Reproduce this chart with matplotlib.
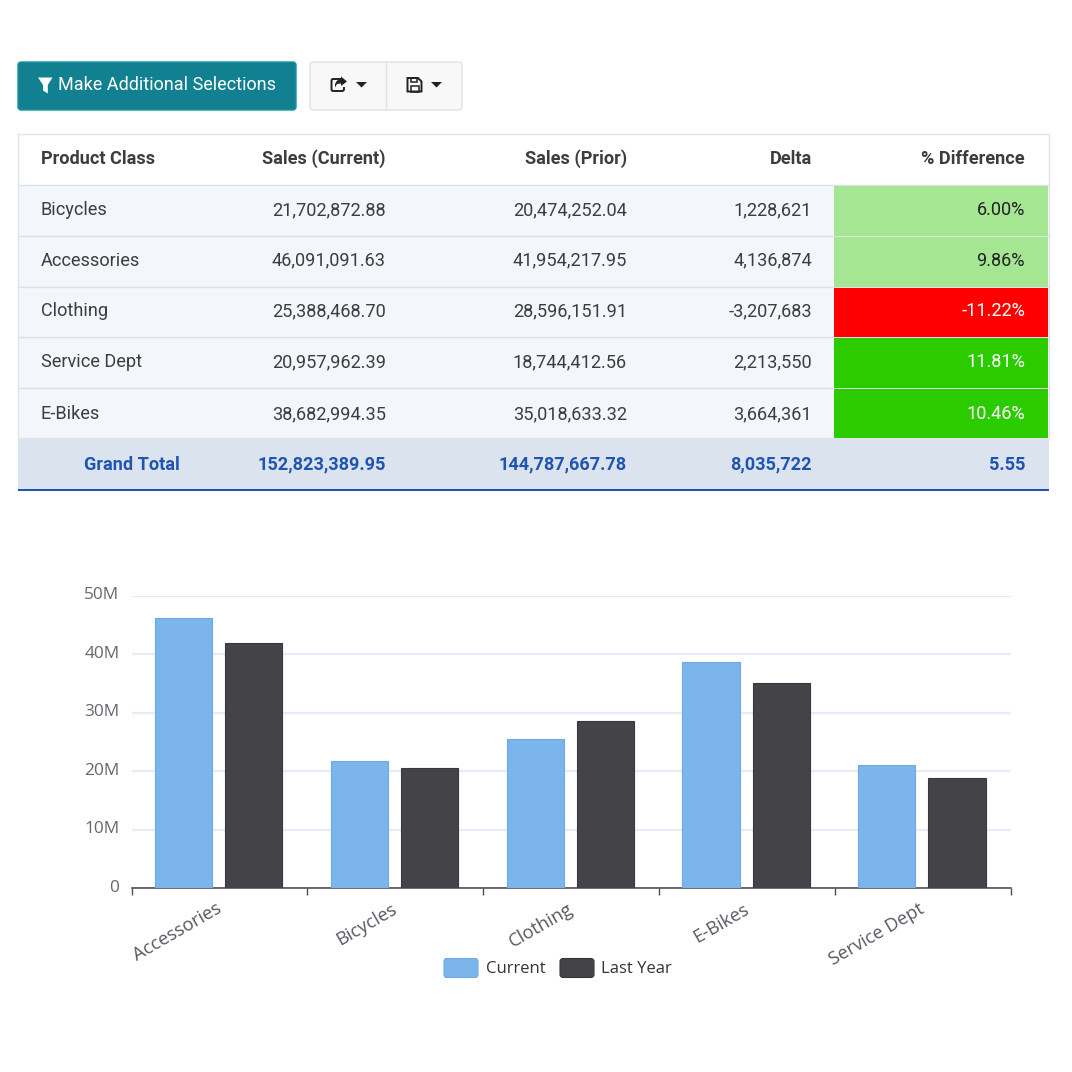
import matplotlib
matplotlib.use('Agg')
import matplotlib.pyplot as plt
from matplotlib.patches import Rectangle, FancyBboxPatch, Polygon, PathPatch
from matplotlib.path import Path
from matplotlib.ticker import FuncFormatter
from matplotlib.transforms import ScaledTranslation

# Table data
headers = ['Product Class', 'Sales (Current)', 'Sales (Prior)', 'Delta', '% Difference']
table_classes = ['Bicycles', 'Accessories', 'Clothing', 'Service Dept', 'E-Bikes']
table_current = ['21,702,872.88', '46,091,091.63', '25,388,468.70', '20,957,962.39', '38,682,994.35']
table_prior = ['20,474,252.04', '41,954,217.95', '28,596,151.91', '18,744,412.56', '35,018,633.32']
table_delta = ['1,228,621', '4,136,874', '-3,207,683', '2,213,550', '3,664,361']
table_pct = ['6.00%', '9.86%', '-11.22%', '11.81%', '10.46%']
totals = ['Grand Total', '152,823,389.95', '144,787,667.78', '8,035,722', '5.55']

# Chart data
categories = ['Accessories', 'Bicycles', 'Clothing', 'E-Bikes', 'Service Dept']
current = [46091091.63, 21702872.88, 25388468.70, 38682994.35, 20957962.39]
last_year = [41954217.95, 20474252.04, 28596151.91, 35018633.32, 18744412.56]
y_ticks = [0, 10e6, 20e6, 30e6, 40e6, 50e6]

pct_bg = ['#a5e693', '#a5e693', '#ff0000', '#2bcb00', '#2bcb00']
pct_fg = ['#222222', '#222222', 'white', 'white', 'white']
row_edges = [185, 236, 287, 337, 388, 438]
row_text_y = [208.7, 259.3, 310, 360.7, 412.7]

plt.rcParams['font.family'] = ['Roboto', 'DejaVu Sans']
TEXT = '#3d3d3f'
BLUE = '#1f55b0'
SIZE = 13.1
# cap height of the table font is about 13 px, so baseline = centre + 6.2
BASE = 6.2

fig = plt.figure(figsize=(10.72, 10.72), dpi=100)

# Overlay in pixel coordinates for the page furniture
ui = fig.add_axes([0, 0, 1, 1])
ui.set_xlim(0, 1072)
ui.set_ylim(1072, 0)
ui.axis('off')


def rect(x0, y0, x1, y1, color, z=1, **kw):
    ui.add_patch(Rectangle((x0, y0), x1 - x0, y1 - y0, facecolor=color, edgecolor='none', zorder=z, **kw))


def rounded(x0, y0, x1, y1, fc, ec, r=3, lw=1.0, z=2):
    ui.add_patch(FancyBboxPatch((x0 + r, y0 + r), x1 - x0 - 2 * r, y1 - y0 - 2 * r,
                                boxstyle=f'round,pad={r},rounding_size={r}',
                                facecolor=fc, edgecolor=ec, linewidth=lw, zorder=z))


# Toolbar
rounded(18, 62, 296, 110, '#118090', '#1a93a5')
ui.add_patch(Polygon([(38, 77.5), (52.5, 77.5), (47.8, 85), (47.8, 93.5), (43, 90.5), (43, 85)],
                     facecolor='white', edgecolor='none', zorder=3))
ui.text(57.5, 90.4, 'Make Additional Selections', color='white', fontsize=12.95, va='baseline', ha='left', zorder=3)

rounded(310, 62, 462, 110, '#f8f8f8', '#e2e2e2')
ui.plot([386, 386], [62, 110], color='#e2e2e2', lw=1, zorder=3)

# Share icon
share_box = Path([(343, 79), (333, 79), (331.5, 79), (331.5, 81), (331.5, 89), (331.5, 91), (333, 91),
                  (342, 91), (344, 91), (344, 89), (344, 87)],
                 [Path.MOVETO, Path.LINETO, Path.CURVE3, Path.CURVE3, Path.LINETO, Path.CURVE3, Path.CURVE3,
                  Path.LINETO, Path.CURVE3, Path.CURVE3, Path.LINETO])
ui.add_patch(PathPatch(share_box, facecolor='none', edgecolor='#222222', lw=1.4, zorder=3))
ui.add_patch(Polygon([(341, 76.5), (347, 81.5), (341, 86), (341, 83.5), (337, 84), (335, 87.5), (335, 84),
                      (337, 80.5), (341, 79.5)], facecolor='#222222', edgecolor='none', zorder=3))
ui.add_patch(Polygon([(356, 82), (367, 82), (361.5, 87.5)], facecolor='#222222', edgecolor='none', zorder=3))

# Save icon
ui.add_patch(Polygon([(407.5, 78), (418, 78), (421.5, 81.5), (421.5, 91.5), (407.5, 91.5)], closed=True,
                     facecolor='none', edgecolor='#222222', lw=1.4, zorder=3))
ui.add_patch(Rectangle((410.5, 78), 6.5, 4, facecolor='none', edgecolor='#222222', lw=1.1, zorder=3))
ui.add_patch(Rectangle((410.5, 85.5), 8, 6, facecolor='none', edgecolor='#222222', lw=1.1, zorder=3))
ui.add_patch(Polygon([(431, 82), (442, 82), (436.5, 87.5)], facecolor='#222222', edgecolor='none', zorder=3))

# Table backgrounds and rules
rect(18, 134, 1049, 185, 'white')
rect(18, 185, 1049, 438, '#f3f6fa')
rect(18, 438, 1049, 489, '#dbe4ee')
rect(18, 489, 1049, 491, BLUE, z=3)
for i, c in enumerate(pct_bg):
    rect(834, row_edges[i] + 1, 1048, row_edges[i + 1], c, z=2)
for y in row_edges[:-1]:
    ui.plot([18, 1049], [y, y], color='#dde0e5', lw=1, zorder=1.5)
ui.plot([18, 1049, 1049, 18, 18], [134, 134, 438, 438, 134], color='#e2e4e9', lw=1, zorder=1.5)

# Table text
right_edges = [154, 386, 627, 812, 1025]
ui.text(41, 158 + BASE, headers[0], color=TEXT, fontsize=SIZE, fontweight='bold', va='baseline', ha='left', zorder=4)
for h, x in zip(headers[1:], right_edges[1:]):
    ui.text(x, 158 + BASE, h, color=TEXT, fontsize=SIZE, fontweight='bold', va='baseline', ha='right', zorder=4)

for i in range(len(table_classes)):
    y = row_text_y[i] + BASE
    ui.text(41, y, table_classes[i], color=TEXT, fontsize=SIZE, va='baseline', ha='left', zorder=4)
    ui.text(386, y, table_current[i], color=TEXT, fontsize=SIZE, va='baseline', ha='right', zorder=4)
    ui.text(627, y, table_prior[i], color=TEXT, fontsize=SIZE, va='baseline', ha='right', zorder=4)
    ui.text(812, y, table_delta[i], color=TEXT, fontsize=SIZE, va='baseline', ha='right', zorder=4)
    ui.text(1025, y, table_pct[i], color=pct_fg[i], fontsize=SIZE, va='baseline', ha='right', zorder=4)

for t, x in zip(totals, [180, 386, 627, 812, 1025]):
    ui.text(x, 463.3 + BASE, t, color=BLUE, fontsize=SIZE, fontweight='bold', va='baseline', ha='right', zorder=4)

# Bar chart
ax = fig.add_axes([131.5 / 1072, (1072 - 888) / 1072, 879 / 1072, 292.5 / 1072])
ax.patch.set_alpha(0)
xs = list(range(len(categories)))
width = 0.325
ax.bar([x - 0.204 for x in xs], current, width, color='#7cb4ec', edgecolor='#6fa8e6', linewidth=0.8,
       label='Current', zorder=3)
ax.bar([x + 0.196 for x in xs], last_year, width, color='#434348', edgecolor='#38383c', linewidth=0.8,
       label='Last Year', zorder=3)

ax.set_xlim(-0.5, len(categories) - 0.5)
ax.set_ylim(0, 50e6)
ax.set_yticks(y_ticks)
ax.yaxis.set_major_formatter(FuncFormatter(lambda v, _: '0' if v == 0 else f'{v / 1e6:.0f}M'))
ax.grid(axis='y', color='#e6ebf8', linewidth=1.6, zorder=0)
ax.set_axisbelow(True)

# Ticks sit between the groups, labels under the centres
ax.set_xticks([x - 0.5 for x in xs] + [xs[-1] + 0.5])
ax.set_xticklabels([])
ax.set_xticks(xs, categories, minor=True)
ax.tick_params(axis='x', which='major', length=5, width=1, color='#50505c')
ax.tick_params(axis='x', which='minor', length=0, pad=8.5, labelsize=13.2, labelcolor='#585862')
ax.tick_params(axis='y', length=0, pad=8.7, labelsize=12.4, labelcolor='#666670')
x_shift = ScaledTranslation(-4 / 100, 0, fig.dpi_scale_trans)
y_shift = ScaledTranslation(0, 2.4 / 100, fig.dpi_scale_trans)
for lab in ax.get_xticklabels(minor=True):
    lab.set_rotation(30)
    lab.set_ha('right')
    lab.set_rotation_mode('anchor')
    lab.set_family(['Open Sans', 'DejaVu Sans'])
    lab.set_transform(lab.get_transform() + x_shift)
for lab in ax.get_yticklabels():
    lab.set_family(['Open Sans', 'DejaVu Sans'])
    lab.set_transform(lab.get_transform() + y_shift)

for name in ['top', 'right', 'left']:
    ax.spines[name].set_visible(False)
ax.spines['bottom'].set_color('#50505c')
ax.spines['bottom'].set_linewidth(1.2)

# Legend with rounded swatches
rounded(444, 958.5, 478, 977.5, '#7cb4ec', '#6fa8e6', r=3, lw=0.8)
rounded(560, 958.5, 594, 977.5, '#434348', '#38383c', r=3, lw=0.8)
ui.text(486, 973, 'Current', color='#333338', fontsize=12, va='baseline', ha='left', family=['Open Sans', 'DejaVu Sans'])
ui.text(601, 973, 'Last Year', color='#333338', fontsize=12, va='baseline', ha='left', family=['Open Sans', 'DejaVu Sans'])

fig.savefig('out.png', dpi=100)
